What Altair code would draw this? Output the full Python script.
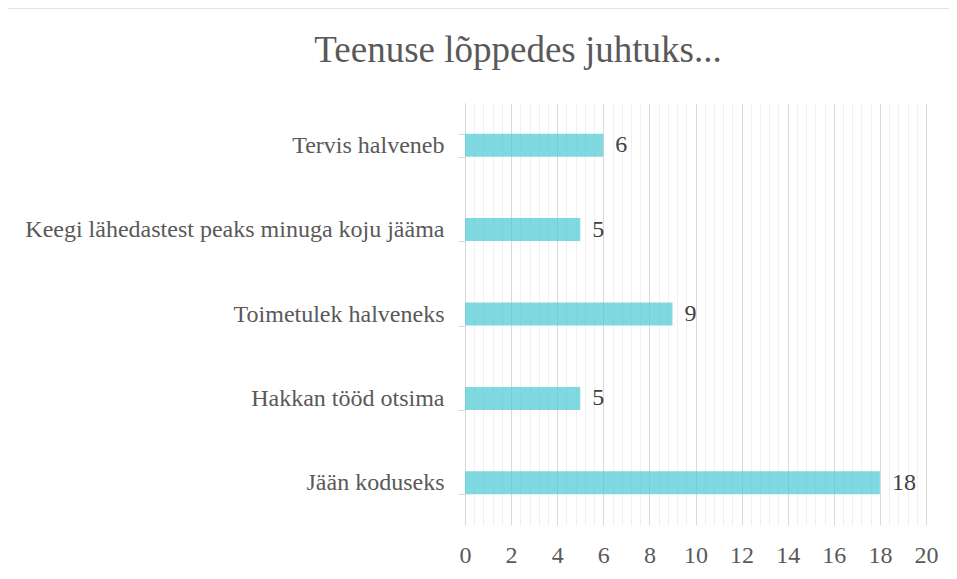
import altair as alt
import pandas as pd

categories = [
    "Tervis halveneb",
    "Keegi lähedastest peaks minuga koju jääma",
    "Toimetulek halveneks",
    "Hakkan tööd otsima",
    "Jään koduseks",
]
counts = [6, 5, 9, 5, 18]
title_text = "Teenuse lõppedes juhtuks..."
x_minor = [round(i * 0.4, 1) for i in range(51)]

df = pd.DataFrame({"cat": categories, "n": counts})
FONT = "Liberation Serif"
major_test = "abs(datum.value/2 - round(datum.value/2)) < 0.001"

xenc = alt.X(
    "n:Q",
    scale=alt.Scale(domain=[0, 20], nice=False),
    axis=alt.Axis(
        title=None,
        values=x_minor,
        labelExpr=f"{major_test} ? format(datum.value, 'd') : ''",
        labelOverlap=False,
        labelFlush=False,
        labelBound=False,
        grid=True,
        gridColor={"condition": {"test": major_test, "value": "#d9d9d9"}, "value": "#f0f0f0"},
        gridWidth=1,
        ticks=False,
        domain=False,
        labelFont=FONT,
        labelFontSize=24,
        labelColor="#595959",
        labelPadding=18,
    ),
)
yenc = alt.Y(
    "cat:N",
    sort=categories,
    scale=alt.Scale(paddingInner=0.727, paddingOuter=0.3635),
    axis=alt.Axis(
        title=None,
        grid=False,
        domain=True,
        domainColor="#d9d9d9",
        ticks=True,
        tickColor="#d9d9d9",
        tickSize=7,
        tickBand="extent",
        labelFont=FONT,
        labelFontSize=24,
        labelColor="#595959",
        labelPadding=14,
        labelLimit=600,
    ),
)

base = alt.Chart(df)
bars = base.mark_bar(color="#4fcad6", opacity=0.72).encode(x=xenc, y=yenc)
labels = base.mark_text(
    align="left", baseline="middle", dx=12, font=FONT, fontSize=24, color="#404040"
).encode(x=xenc, y=yenc, text="n:Q")

one = alt.Data(values=[{"t": title_text}])
frame = alt.Chart(one).mark_rect(
    fill="transparent", stroke="#d9d9d9", strokeWidth=1.5
).encode(x=alt.value(-458), x2=alt.value(700), y=alt.value(-95), y2=alt.value(700))
title = alt.Chart(one).mark_text(
    align="center", baseline="alphabetic", font=FONT, fontSize=37, color="#595959"
).encode(x=alt.value(53), y=alt.value(-41), text="t:N")

chart = (
    alt.layer(frame, bars, labels, title)
    .properties(
        width=461,
        height=422,
        padding={"left": 457, "top": 95, "right": 23, "bottom": 46},
        autosize="none",
    )
    .configure_view(stroke=None)
)

chart.save("out.html", embed_options={"renderer": "svg", "actions": False})
